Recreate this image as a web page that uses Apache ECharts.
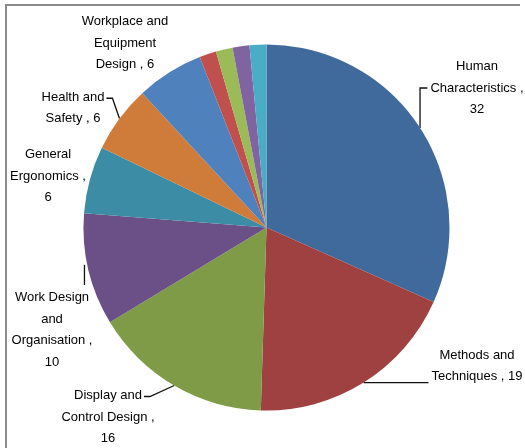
<!DOCTYPE html>
<html>
<head>
<meta charset="utf-8">
<script src="https://cdn.jsdelivr.net/npm/echarts@6/dist/echarts.min.js"></script>
<style>
  html, body { margin: 0; padding: 0; background: #fff; }
  #chart { width: 525px; height: 448px; }
</style>
</head>
<body>
<div id="chart"></div>
<script>
// Topic areas and the number of papers in each
const categories = [
  'Human Characteristics',
  'Methods and Techniques',
  'Display and Control Design',
  'Work Design and Organisation',
  'General Ergonomics',
  'Health and Safety',
  'Workplace and Equipment Design',
  'Other 1', 'Other 2', 'Other 3', 'Other 4'
];
const counts = [32, 19, 16, 10, 6, 6, 6, 1.5, 1.5, 1.5, 1.5];

// How each label is broken over lines (unlabelled slices are absent)
const labelLines = [
  ['Human', 'Characteristics ,', '{v}'],
  ['Methods and', 'Techniques , {v}'],
  ['Display and', 'Control Design ,', '{v}'],
  ['Work Design', 'and', 'Organisation ,', '{v}'],
  ['General', 'Ergonomics ,', '{v}'],
  ['Health and', 'Safety , {v}'],
  ['Workplace and', 'Equipment', 'Design , {v}']
];

// Slice colours
const colors = ['#416a9c', '#a04141', '#7f9b48', '#6a5086', '#3d8ca5', '#cf7b39',
                '#4f81bd', '#c0504d', '#9bbb59', '#8064a2', '#4bacc6'];

// Where each label block is centred
const labelCentres = [
  [477, 88], [477, 366], [108, 417], [52, 330], [48, 176], [73, 108], [125, 43]
];
// Leader style per label: elbow to a line, straight, or none
const leaderKind = ['upElbow', 'flat', 'tailLeft', 'vertical', null, 'tailLeft', null];

const FONT_SIZE = 13;
const LINE_H = 21.5;
const FONT_FAMILY = 'Liberation Sans';

const measureCtx = document.createElement('canvas').getContext('2d');
measureCtx.font = FONT_SIZE + 'px "' + FONT_FAMILY + '"';
const textWidth = s => measureCtx.measureText(s).width;

const labelText = i => labelLines[i].map(s => s.replace('{v}', counts[i]));

const data = counts.map((v, i) => {
  const labelled = i < labelLines.length;
  return {
    name: categories[i],
    value: v,
    itemStyle: { color: colors[i] },
    label: { show: labelled },
    labelLine: { show: labelled && !!leaderKind[i] }
  };
});

// Leader line from the slice's anchor point to the moved label block
function leaderPoints(i, anchor) {
  const lines = labelText(i);
  const [cx, cy] = labelCentres[i];
  const widest = Math.max(...lines.map(textWidth));
  const x0 = cx - widest / 2;
  const y0 = cy - lines.length * LINE_H / 2;
  const lineY = k => y0 + LINE_H * (k + 0.5);
  const [ax, ay] = anchor;
  switch (leaderKind[i]) {
    case 'upElbow':
      return [[ax, ay], [ax, lineY(1)], [x0 - 3, lineY(1)]];
    case 'flat':
      return [[ax, ay], [cx - textWidth(lines[1]) / 2 - 3, ay]];
    case 'tailLeft': {
      const right = cx + textWidth(lines[0]) / 2;
      return [[ax, ay], [right + 8, lineY(0) + 1], [right + 2, lineY(0) + 1]];
    }
    case 'vertical':
      return [[ax - 4, ay - 5], [ax - 4, y0 - 2]];
    default:
      return null;
  }
}

const chart = echarts.init(document.getElementById('chart'), null, { renderer: 'canvas' });
chart.setOption({
  animation: false,
  graphic: [
    {
      type: 'polyline',
      shape: { points: [[6, 448], [6, 5], [520, 5]] },
      style: { stroke: '#8c8c8c', lineWidth: 2, fill: null }
    }
  ],
  series: [{
    type: 'pie',
    center: [266.5, 227.5],
    radius: 183,
    startAngle: 90,
    clockwise: true,
    data: data,
    itemStyle: { borderWidth: 0 },
    label: {
      show: true,
      position: 'outside',
      fontFamily: FONT_FAMILY,
      fontSize: FONT_SIZE,
      lineHeight: LINE_H,
      color: '#000',
      align: 'center',
      overflow: 'none',
      formatter: p => labelLines[p.dataIndex] ? labelText(p.dataIndex).join('\n') : ''
    },
    labelLine: {
      show: true,
      length: 8,
      length2: 8,
      lineStyle: { color: '#111', width: 1.3 }
    },
    labelLayout: p => {
      const i = p.dataIndex;
      const c = labelCentres[i];
      if (!c) return {};
      const out = { x: c[0], y: c[1], align: 'center', verticalAlign: 'middle', hideOverlap: false };
      if (leaderKind[i] && p.labelLinePoints) {
        out.labelLinePoints = leaderPoints(i, p.labelLinePoints[0]);
      }
      return out;
    }
  }]
});
</script>
</body>
</html>
